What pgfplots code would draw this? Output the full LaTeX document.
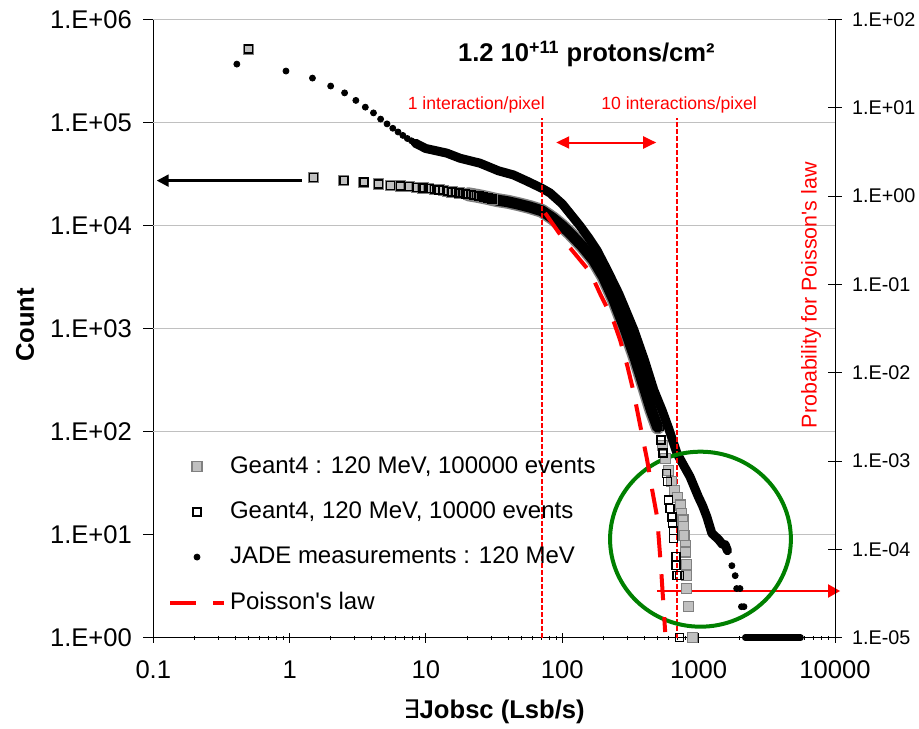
\documentclass[border=0pt]{standalone}
\usepackage{fontspec}
\setmainfont{Liberation Sans}
\newfontfamily\djv{DejaVu Sans}
\usepackage{pgfplots}
\pgfplotsset{compat=1.18}
\usepackage{pgfplotstable}
\usetikzlibrary{arrows.meta}
\definecolor{gridgray}{RGB}{192,192,192}
\definecolor{sqfill}{RGB}{192,192,192}
\definecolor{sqedge}{RGB}{128,128,128}
\definecolor{dkgreen}{RGB}{0,128,0}
\newcommand{\fs}{\fontsize{12.8bp}{15bp}\selectfont}
\newcommand{\fsl}{\fontsize{12bp}{14bp}\selectfont}
\newcommand{\fsr}{\fontsize{9.9bp}{12bp}\selectfont}
\newcommand{\fss}{\fontsize{8.8bp}{10bp}\selectfont}
\newcommand{\fsp}{\fontsize{10.7bp}{12bp}\selectfont}
\pgfplotsset{legend image code/.code={\draw[mark repeat=2,mark phase=2] plot coordinates {(0bp,0bp) (13.5bp,0bp) (27bp,0bp)};}}

% Geant4 bins (both simulations coincide here)
\pgfplotstableread{
x y
0.5 516000
1.5 29300
2.5 27200
3.5 26400
4.5 25300
5.5 24600
6.5 24200
7.5 23800
8.5 23400
9.5 23100
10.5 22800
11.5 22500
12.5 22200
13.5 21900
14.5 21400
15.5 21200
16.5 21000
17.5 20700
18.5 20500
19.5 20300
20.5 20100
21.5 19900
22.5 19700
23.5 19500
24.5 19300
25.5 19100
26.5 18900
27.5 18700
28.5 18500
29.5 18300
30.5 18100
}\gbins
% Geant4 100000 events, dense part
\pgfplotstableread{
x y
20.5 20100
24 19400
28 18600
33 17700
40 17000
48 16100
58 15100
70.8 13900
85 11800
100 9900
114 8400
140 6300
169 4650
200 3200
239 1900
288 1000
340 530
405 253
450 161
500 110
}\gband
% Geant4 10000 events, dense part
\pgfplotstableread{
x y
33 17700
40 17000
48 16100
58 15100
70.8 13900
85 11800
100 9900
114 8400
140 6300
169 4650
200 3200
239 1900
288 1000
340 530
405 253
450 161
500 110
}\gtband
% Geant4 100000 events tail
\pgfplotstableread{
x y
540 74
568 55
600 42
630 33
665 27
700 23
731 19.4
753 16.1
767 13.9
775 12
780 9.9
797 7.9
803 6.8
809 5.1
809 4
809 3
841 2
906 1
}\ghtail
% Geant4 10000 events tail
\pgfplotstableread{
x y
515 112
528 83
549 62
578 39.5
591 32.7
600 21.7
618 18
636 14.9
643 12.9
653 11
653 9.2
684 6.1
684 5
692 4
723 4
723 1
}\gttail
% JADE sparse points
\pgfplotstableread{
x y
0.41 369000
0.94 316000
1.47 270000
2.0 226000
2.53 194000
3.06 164000
3.59 141000
4.12 124000
4.65 108000
5.18 97000
5.71 88000
6.24 81000
6.77 75000
7.30 70000
7.83 66500
8.36 63000
8.89 60500
9.42 58000
9.95 56000
1752 5
1853 4
1900 3
2010 3
2060 2
2150 2
}\jdots
% JADE: bins with one count
\pgfplotstableread{
x y
2193 1
2307 1
2427 1
2553 1
2685 1
2825 1
2971 1
3126 1
3288 1
3459 1
3638 1
3827 1
4027 1
4236 1
4456 1
4688 1
4931 1
5188 1
5457 1
5600 1
}\jone
% JADE dense part
\pgfplotstableread{
x y
8.36 63000
9.95 56000
14.2 50500
17.8 45000
24.9 40300
34 34000
43.8 31000
55 27000
70.8 23000
81.3 20700
100 16200
135 9900
155 7700
179 5800
213 3720
260 2170
335 971
400 495
469 253
540 160
608 104
692 62
773 47.5
863 36.6
995 23.3
1070 19
1148 14.9
1250 10.3
1397 9
1500 8
1564 8
1626 7
}\jband
% Poisson probability (right axis)
\pgfplotstableread{
x y
74.8 0.644
106.6 0.294
160 0.138
192.7 0.0739
236 0.0395
265.5 0.0234
298.7 0.01222
330.6 0.00637
372 0.00256
419 0.001026
456 0.00047
496 0.000232
531 0.0000583
568 0.0000116
}\poisson

\begin{document}
\begin{tikzpicture}
\begin{axis}[scale only axis, width=340.85bp, height=309.1bp,
  at={(76.65bp,45.65bp)}, anchor=south west, clip=false,
  xmode=log, xmin=0.1, xmax=10000,
  ymode=log, ymin=1, ymax=1e6,
  axis x line*=bottom, axis y line*=left,
  axis line style={black, line width=0.5bp},
  xtick={0.1,1,10,100,1000,10000}, xticklabels={0.1,1,10,100,1000,10000},
  minor xtick={0.2,0.3,0.4,0.5,0.6,0.7,0.8,0.9,2,3,4,5,6,7,8,9,20,30,40,50,60,70,80,90,200,300,400,500,600,700,800,900,2000,3000,4000,5000,6000,7000,8000,9000},
  ytick={1,10,100,1000,10000,100000,1000000},
  yticklabels={1.E+00,1.E+01,1.E+02,1.E+03,1.E+04,1.E+05,1.E+06},
  yminorticks=false,
  xtick align=center, ytick align=outside,
  major tick length=5bp, minor tick length=2.2bp,
  tick style={black, line width=0.5bp},
  xticklabel style={font=\fs, inner sep=0pt, anchor=north, yshift=-9bp},
  yticklabel style={font=\fs, inner sep=0pt, anchor=east, xshift=-5.5bp},
  legend style={at={(0.0216,0.2988)}, anchor=north west, draw=none, fill=none,
     inner sep=0pt, outer sep=0pt, row sep=8.7bp, column sep=0bp, font=\fsl},
  legend cell align=left,
]
% grid lines (the 1E+01 line is hidden by the legend box in the original)
\draw[gridgray, line width=0.5bp] (axis cs:810,10) -- (axis cs:10000,10);
\draw[gridgray, line width=0.5bp] (axis cs:0.1,100) -- (axis cs:10000,100);
\draw[gridgray, line width=0.5bp] (axis cs:0.1,1000) -- (axis cs:10000,1000);
\draw[gridgray, line width=0.5bp] (axis cs:0.1,10000) -- (axis cs:10000,10000);
\draw[gridgray, line width=0.5bp] (axis cs:0.1,100000) -- (axis cs:10000,100000);
\draw[gridgray, line width=0.5bp] (axis cs:0.1,1000000) -- (axis cs:10000,1000000);

% Geant4 100000 events
\addplot[forget plot, sqedge, line width=7bp, line join=round, line cap=round] table {\gband};
\addplot[only marks, mark=square*, mark size=2.5bp, mark options={fill=sqfill, draw=sqedge, line width=0.6bp}] table {\gbins};
\addlegendentry{Geant4 : 120 MeV, 100000 events}
\addplot[forget plot, only marks, mark=square*, mark size=2.5bp, mark options={fill=sqfill, draw=sqedge, line width=0.6bp}] table {\ghtail};
% Geant4 10000 events
\addplot[forget plot, black, line width=5.5bp, line join=round, line cap=round] table {\gtband};
\addplot[only marks, mark=square, mark size=2bp, mark options={draw=black, line width=0.7bp}] table {\gbins};
\addlegendentry{Geant4, 120 MeV, 10000 events}
\addplot[forget plot, only marks, mark=square, mark size=2bp, mark options={draw=black, line width=0.7bp}] table {\gttail};
% JADE
\addplot[forget plot, black, line width=4.5bp, line join=round, line cap=round] table {\jband};
\addplot[forget plot, black, line width=3.2bp, line cap=round] table {\jone};
\addplot[only marks, mark=*, mark size=1.5bp, black] table {\jdots};
\addlegendentry{JADE measurements : 120 MeV}
\addlegendimage{red, line width=2bp, dash pattern=on 13bp off 8.5bp}
\addlegendentry{Poisson\textquotesingle s law}

% annotations
\draw[red, line width=1bp, dash pattern=on 2.5bp off 1bp] (axis cs:70.8,1) -- (axis cs:70.8,1.1e5);
\draw[red, line width=1bp, dash pattern=on 2.5bp off 1bp] (axis cs:698,1) -- (axis cs:698,1.1e5);
\node[red, font=\fss, anchor=base east, inner sep=0pt] at (axis cs:74.8,1.33e5) {1 interaction/pixel};
\node[red, font=\fss, anchor=base, inner sep=0pt] at (axis cs:719,1.33e5) {10 interactions/pixel};
\draw[red, line width=1bp, {Triangle[length=6.5bp,width=6bp]}-{Triangle[length=6.5bp,width=6bp]}] (axis cs:90.2,6.4e4) -- (axis cs:488,6.4e4);
\draw[black, line width=1.2bp, -{Triangle[length=6bp,width=6bp]}] (axis cs:1.23,2.73e4) -- (axis cs:0.106,2.73e4);
\draw[red, line width=1bp, -{Triangle[length=6bp,width=6.5bp]}] (axis cs:493,2.84) -- (axis cs:10900,2.84);
\draw[dkgreen, line width=2bp] (axis cs:1031,9.04) ellipse [x radius=45.2bp, y radius=43.75bp];
\node[font=\fs\bfseries, anchor=base, inner sep=0pt] at (axis cs:150,3.88e5) {1.2 10\textsuperscript{+11} protons/cm²};
\node[red, font=\fsp, rotate=90, inner sep=0pt] at (rel axis cs:0.965,0.554) {Probability for Poisson\textquotesingle s law};
\node[font=\fs\bfseries, rotate=90, inner sep=0pt] at (rel axis cs:-0.1882,0.5058) {Count};
\node[font=\fs\bfseries, anchor=base, inner sep=0pt] at (rel axis cs:0.5,-0.1299) {{\djv\mdseries ∃}Jobsc (Lsb/s)};
\end{axis}

\begin{axis}[scale only axis, width=340.85bp, height=309.1bp,
  at={(76.65bp,45.65bp)}, anchor=south west, clip=false,
  xmode=log, xmin=0.1, xmax=10000,
  ymode=log, ymin=1e-5, ymax=100,
  axis y line*=right, axis x line=none,
  axis line style={black, line width=0.5bp},
  ytick={1e-5,1e-4,1e-3,1e-2,1e-1,1,10,100},
  yticklabels={1.E-05,1.E-04,1.E-03,1.E-02,1.E-01,1.E+00,1.E+01,1.E+02},
  yminorticks=false, ytick align=center, major tick length=6.7bp,
  tick style={black, line width=0.5bp},
  yticklabel style={font=\fsr, inner sep=0pt, anchor=west, xshift=5bp},
]
\addplot[red, line width=2bp, dash pattern=on 13bp off 8.5bp] table {\poisson};
\end{axis}
\pgfresetboundingbox
\path[use as bounding box] (0,0) rectangle (459.5bp,364.5bp);
\end{tikzpicture}
\end{document}
